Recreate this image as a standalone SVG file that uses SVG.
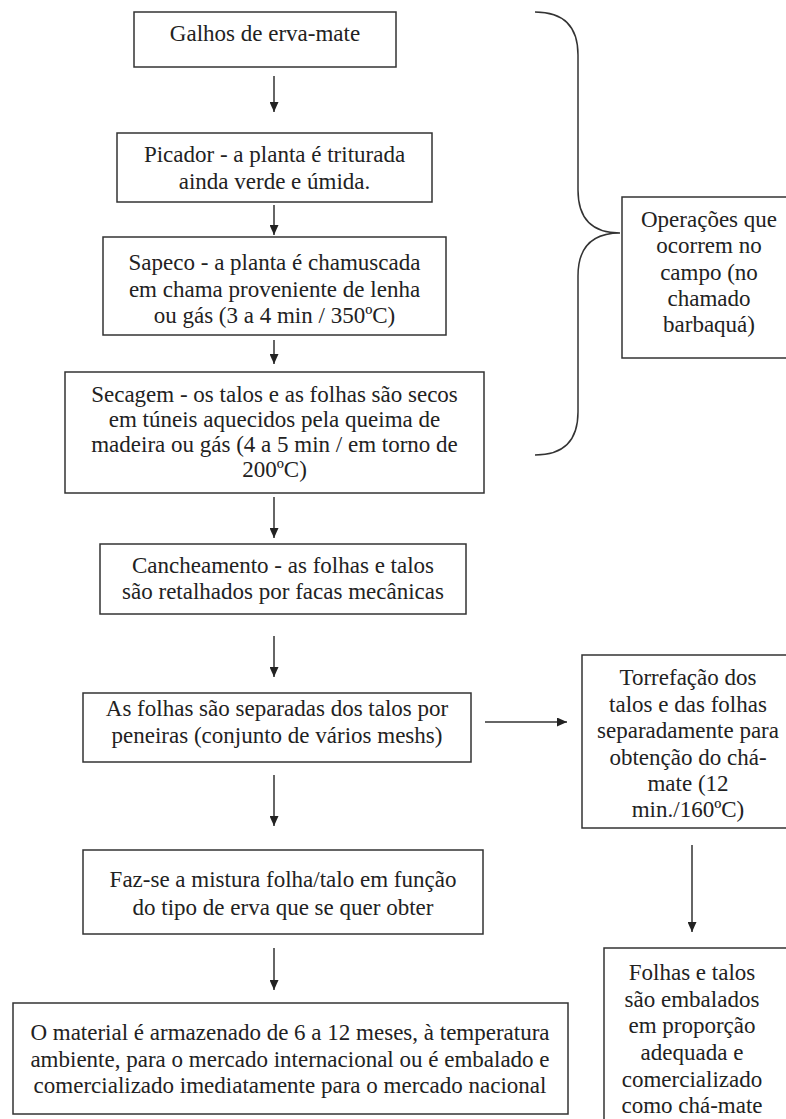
<svg xmlns="http://www.w3.org/2000/svg" width="786" height="1119" viewBox="0 0 786 1119" font-family="'Liberation Serif', 'DejaVu Serif', serif">
<style>
.box{fill:#fff;stroke:#333;stroke-width:1.5}
text{font-family:'Liberation Serif','DejaVu Serif',serif;font-size:23px;fill:#222;text-anchor:middle}
.c{fill:none;stroke:#333;stroke-width:1.5}
</style>
<defs>
<marker id="ah" markerUnits="userSpaceOnUse" markerWidth="10" markerHeight="9" refX="10" refY="4.5" orient="auto">
<path d="M0,0 L10,4.5 L0,9 Z" fill="#222"/>
</marker>
</defs>
<rect width="786" height="1119" fill="#fff"/>
<g id="connectors">
<line class="c" x1="274" y1="76" x2="274" y2="112" marker-end="url(#ah)"/>
<line class="c" x1="274" y1="205" x2="274" y2="235" marker-end="url(#ah)"/>
<line class="c" x1="274" y1="340" x2="274" y2="364" marker-end="url(#ah)"/>
<line class="c" x1="274" y1="497" x2="274" y2="538" marker-end="url(#ah)"/>
<line class="c" x1="274" y1="636" x2="274" y2="677" marker-end="url(#ah)"/>
<line class="c" x1="274" y1="775" x2="274" y2="826" marker-end="url(#ah)"/>
<line class="c" x1="274" y1="948" x2="274" y2="990" marker-end="url(#ah)"/>
<line class="c" x1="485" y1="722" x2="567" y2="722" marker-end="url(#ah)"/>
<line class="c" x1="692" y1="845" x2="692" y2="932" marker-end="url(#ah)"/>
<path class="c" d="M535,12 Q578,12 578,55 L578,190 Q578,233 620,233 Q578,233 578,276 L578,412 Q578,455 535,455"/>
</g>
<g id="n1">
<rect class="box" x="134" y="12" width="262" height="55"/>
<text x="265" y="41">Galhos de erva-mate</text>
</g>
<g id="n2">
<rect class="box" x="117" y="133" width="315" height="69"/>
<text x="274.5" y="162">Picador - a planta é triturada</text>
<text x="274.5" y="189">ainda verde e úmida.</text>
</g>
<g id="n3">
<rect class="box" x="103" y="237" width="343" height="98"/>
<text x="274.5" y="270">Sapeco - a planta é chamuscada</text>
<text x="274.5" y="297">em chama proveniente de lenha</text>
<text x="274.5" y="323">ou gás (3 a 4 min / 350ºC)</text>
</g>
<g id="n4">
<rect class="box" x="65" y="372" width="419" height="121"/>
<text x="274.5" y="402">Secagem - os talos e as folhas são secos</text>
<text x="274.5" y="427">em túneis aquecidos pela queima de</text>
<text x="274.5" y="452">madeira ou gás (4 a 5 min / em torno de</text>
<text x="274.5" y="477">200ºC)</text>
</g>
<g id="n5">
<rect class="box" x="100" y="544" width="366" height="70"/>
<text x="283" y="573">Cancheamento - as folhas e talos</text>
<text x="283" y="599">são retalhados por facas mecânicas</text>
</g>
<g id="n6">
<rect class="box" x="83" y="693" width="388" height="69"/>
<text x="277" y="716">As folhas são separadas dos talos por</text>
<text x="277" y="743">peneiras (conjunto de vários meshs)</text>
</g>
<g id="n7">
<rect class="box" x="83" y="850" width="400" height="84"/>
<text x="283" y="887">Faz-se a mistura folha/talo em função</text>
<text x="283" y="915">do tipo de erva que se quer obter</text>
</g>
<g id="n8">
<rect class="box" x="13" y="1003" width="555" height="111"/>
<text x="290" y="1040">O material é armazenado de 6 a 12 meses, à temperatura</text>
<text x="290" y="1067">ambiente, para o mercado internacional ou é embalado e</text>
<text x="290" y="1093">comercializado imediatamente para o mercado nacional</text>
</g>
<g id="n9">
<rect class="box" x="622" y="197" width="180" height="161"/>
<text x="709" y="227">Operações que</text>
<text x="709" y="253">ocorrem no</text>
<text x="709" y="280">campo (no</text>
<text x="709" y="306">chamado</text>
<text x="709" y="332">barbaquá)</text>
</g>
<g id="n10">
<rect class="box" x="582" y="655" width="220" height="173"/>
<text x="688" y="685">Torrefação dos</text>
<text x="688" y="712">talos e das folhas</text>
<text x="688" y="738">separadamente para</text>
<text x="688" y="765">obtenção do chá-</text>
<text x="688" y="791">mate (12</text>
<text x="688" y="817">min./160ºC)</text>
</g>
<g id="n11">
<rect class="box" x="604" y="948" width="200" height="200"/>
<text x="692" y="980">Folhas e talos</text>
<text x="692" y="1007">são embalados</text>
<text x="692" y="1033">em proporção</text>
<text x="692" y="1060">adequada e</text>
<text x="692" y="1087">comercializado</text>
<text x="692" y="1113">como chá-mate</text>
</g>
</svg>
